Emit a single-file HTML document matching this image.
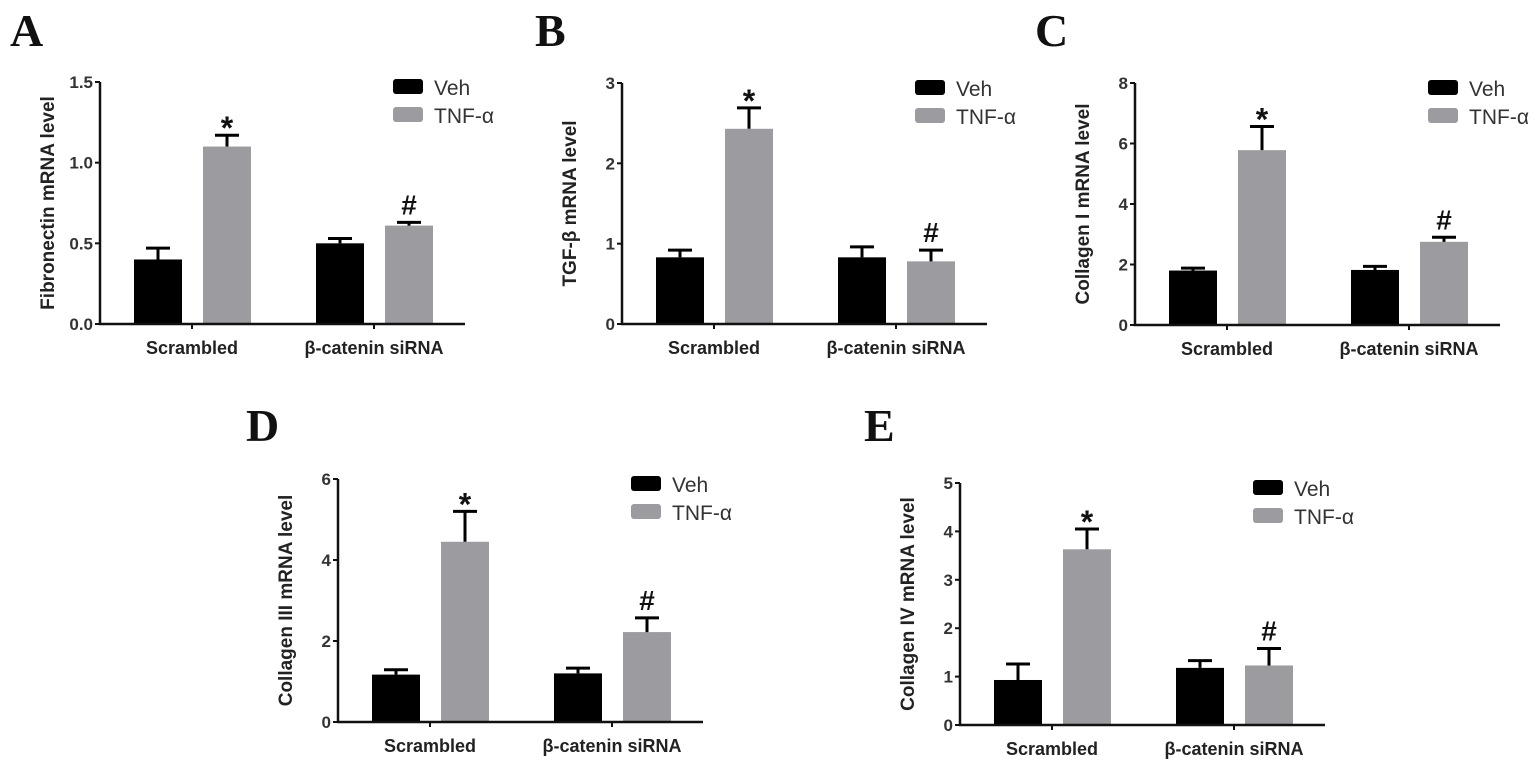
<!DOCTYPE html>
<html><head><meta charset="utf-8">
<style>
html,body{margin:0;padding:0;background:#fff;}
svg{display:block;font-family:"Liberation Sans",Arial,sans-serif;}
.tick{font-size:17px;font-weight:bold;fill:#333;}
.cat{font-size:18px;font-weight:bold;fill:#222;}
.ylab{font-size:19px;font-weight:bold;fill:#222;}
.leg{font-size:21px;fill:#333;}
.letter{font-family:"Liberation Serif",serif;font-size:46px;font-weight:bold;fill:#111;}
.ann{font-weight:bold;fill:#111;}
</style></head>
<body>
<svg id="fig" width="1540" height="767" viewBox="0 0 1540 767"></svg>
<script>
const categories = ["Scrambled", "β-catenin siRNA"];
const seriesNames = ["Veh", "TNF-α"];
const annotations = ["*", "#"];
// Panel A - Fibronectin
const aVeh = [0.40, 0.50], aVehErr = [0.07, 0.03], aTnf = [1.10, 0.61], aTnfErr = [0.07, 0.02];
const aTicks = ["0.0", "0.5", "1.0", "1.5"], aMax = 1.5;
// Panel B - TGF-β
const bVeh = [0.83, 0.83], bVehErr = [0.09, 0.13], bTnf = [2.43, 0.78], bTnfErr = [0.26, 0.14];
const bTicks = ["0", "1", "2", "3"], bMax = 3;
// Panel C - Collagen I
const cVeh = [1.80, 1.82], cVehErr = [0.08, 0.12], cTnf = [5.78, 2.75], cTnfErr = [0.78, 0.15];
const cTicks = ["0", "2", "4", "6", "8"], cMax = 8;
// Panel D - Collagen III
const dVeh = [1.17, 1.20], dVehErr = [0.12, 0.13], dTnf = [4.45, 2.22], dTnfErr = [0.75, 0.35];
const dTicks = ["0", "2", "4", "6"], dMax = 6;
// Panel E - Collagen IV
const eVeh = [0.93, 1.18], eVehErr = [0.33, 0.15], eTnf = [3.63, 1.23], eTnfErr = [0.42, 0.35];
const eTicks = ["0", "1", "2", "3", "4", "5"], eMax = 5;

const NS = "http://www.w3.org/2000/svg";
const svg = document.getElementById("fig");
function mk(tag, attrs, parent, text){
  const el = document.createElementNS(NS, tag);
  for (const k in attrs) el.setAttribute(k, attrs[k]);
  if (text !== undefined) el.textContent = text;
  (parent || svg).appendChild(el);
  return el;
}
const panels = [
  {id:"a", letter:"A", lx:10, ly:46, x0:100, top:82, bot:324, yl:"Fibronectin mRNA level", veh:aVeh, vehErr:aVehErr, tnf:aTnf, tnfErr:aTnfErr, ticks:aTicks, max:aMax},
  {id:"b", letter:"B", lx:535, ly:46, x0:622, top:83, bot:324, yl:"TGF-β mRNA level", veh:bVeh, vehErr:bVehErr, tnf:bTnf, tnfErr:bTnfErr, ticks:bTicks, max:bMax},
  {id:"c", letter:"C", lx:1035, ly:46, x0:1135, top:83, bot:325, yl:"Collagen I mRNA level", veh:cVeh, vehErr:cVehErr, tnf:cTnf, tnfErr:cTnfErr, ticks:cTicks, max:cMax},
  {id:"d", letter:"D", lx:246, ly:441, x0:338, top:479, bot:722, yl:"Collagen III mRNA level", veh:dVeh, vehErr:dVehErr, tnf:dTnf, tnfErr:dTnfErr, ticks:dTicks, max:dMax},
  {id:"e", letter:"E", lx:864, ly:441, x0:960, top:483, bot:725, yl:"Collagen IV mRNA level", veh:eVeh, vehErr:eVehErr, tnf:eTnf, tnfErr:eTnfErr, ticks:eTicks, max:eMax}
];
const BW = 48;
panels.forEach(p => {
  const g = mk("g", {});
  
  
  const y = v => p.bot - (v / p.max) * (p.bot - p.top);
  const xBar = (ci, si) => p.x0 + 34 + ci * 182 + si * 69;
  const L = mk("text", {x:p.lx, y:p.ly, class:"letter"}, g, p.letter);
  
  
  [p.veh, p.tnf].forEach((vals, si) => {
    const errs = si === 0 ? p.vehErr : p.tnfErr;
    vals.forEach((v, ci) => {
      const bx = xBar(ci, si);
      const r = mk("rect", {x:bx, y:y(v), width:BW, height:p.bot - y(v), fill: si === 0 ? "#000" : "#9c9ca0"}, g);
      
      
      const cx = bx + BW / 2, et = y(v + errs[ci]);
      const eb = mk("path", {d:`M${cx},${y(v)}V${et}M${cx-12},${et}H${cx+12}`, stroke:"#000", "stroke-width":3, fill:"none"}, g);
      
      
      if (si === 1) {
        const isStar = ci === 0;
        const a = mk("text", {x:cx, y: isStar ? et + 4 : et - 8, "text-anchor":"middle", class:"ann", "font-size": isStar ? 32 : 28}, g, annotations[ci]);
        
        
      }
    });
  });
  const ax = mk("path", {d:`M${p.x0},${p.top}V${p.bot}H${p.x0+365}`, stroke:"#111", "stroke-width":2.5, fill:"none"}, g);
  
  
  p.ticks.forEach((t, i) => {
    const ty = y(p.max * i / (p.ticks.length - 1));
    mk("line", {x1:p.x0-5, x2:p.x0, y1:ty, y2:ty, stroke:"#111", "stroke-width":2}, g);
    const tl = mk("text", {x:p.x0-7, y:ty+6, "text-anchor":"end", class:"tick"}, g, t);
    
    
  });
  categories.forEach((c, ci) => {
    const cx = p.x0 + 34 + ci * 182 + 58;
    mk("line", {x1:cx, x2:cx, y1:p.bot, y2:p.bot+5, stroke:"#111", "stroke-width":2}, g);
    const cl = mk("text", {x:cx, y:p.bot+30, "text-anchor":"middle", class:"cat"}, g, c);
    
    
  });
  const ymid = (p.top + p.bot) / 2;
  const yl = mk("text", {x:p.x0-46, y:ymid, "text-anchor":"middle", class:"ylab", transform:`rotate(-90 ${p.x0-46} ${ymid})`}, g, p.yl);
  
  
  seriesNames.forEach((s, si) => {
    const lx = p.x0 + 293, ly = p.top - 3 + si * 28;
    const sw = mk("rect", {x:lx, y:ly, width:30, height:15, rx:3, fill: si === 0 ? "#000" : "#9c9ca0"}, g);
    
    
    const lt = mk("text", {x:lx+41, y:ly+16, class:"leg"}, g, s);
    
    
  });
});
</script>
</body></html>
